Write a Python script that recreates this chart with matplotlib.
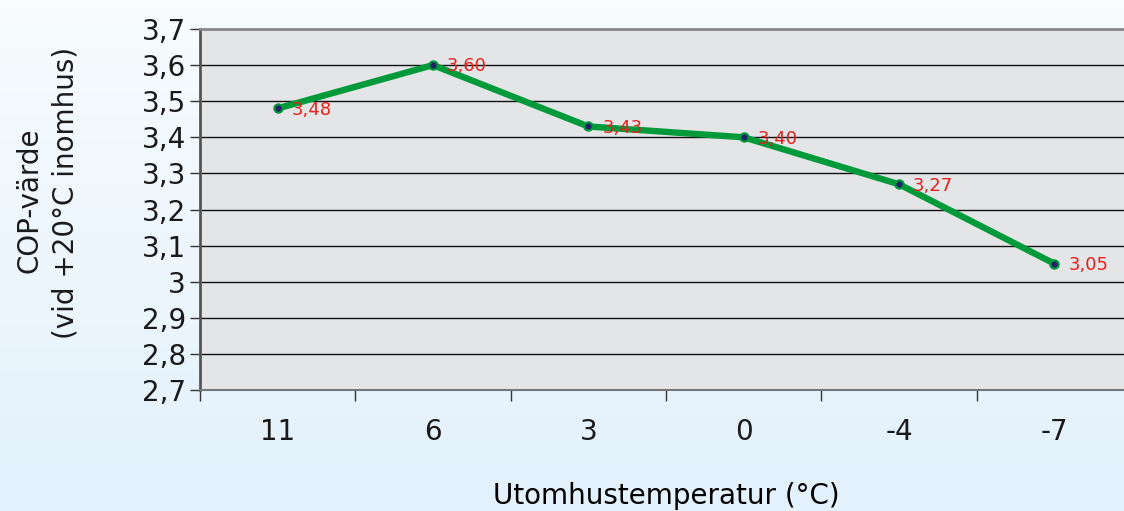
"""
COP vs outdoor temperature line chart.
"""

import numpy as np
import matplotlib

matplotlib.use("Agg")
import matplotlib.pyplot as plt
from matplotlib.ticker import FixedLocator, FuncFormatter

# ── Data ──────────────────────────────────────────────────────
temps = ["11", "6", "3", "0", "-4", "-7"]
cop = [3.48, 3.60, 3.43, 3.40, 3.27, 3.05]
y_ticks = [2.7, 2.8, 2.9, 3.0, 3.1, 3.2, 3.3, 3.4, 3.5, 3.6, 3.7]

# ── Styling ───────────────────────────────────────────────────
LINE_GREEN = "#009a3a"
DOT_NAVY = "#22226a"
LABEL_RED = "#e8201c"
PLOT_BG = "#e4e5e7"
TEXT = "#1a1a1a"

plt.rcParams.update({"font.family": "DejaVu Sans", "text.color": TEXT})

fig = plt.figure(figsize=(11.24, 5.11), dpi=100)

# soft vertical gradient behind everything
bg = fig.add_axes([0, 0, 1, 1], zorder=-10)
grad = np.linspace(0, 1, 256).reshape(-1, 1)
top = np.array([0xF8, 0xFC, 0xFE]) / 255
bot = np.array([0xE2, 0xF1, 0xFC]) / 255
img = top + (bot - top) * grad[..., None]
bg.imshow(img, aspect="auto", extent=[0, 1, 0, 1])
bg.axis("off")

ax = fig.add_axes([200 / 1124, 1 - 390 / 511, 932 / 1124, 361 / 511])
ax.set_facecolor(PLOT_BG)

x = np.arange(len(temps))
ax.plot(x, cop, color=LINE_GREEN, lw=4.6, zorder=3, solid_joinstyle="round")
ax.plot(x, cop, "o", ms=6, mfc=DOT_NAVY, mec=LINE_GREEN, mew=1.5, zorder=4)

for xi, v in zip(x, cop):
    ax.annotate(
        f"{v:.2f}".replace(".", ","),
        (xi, v),
        xytext=(10, -1),
        textcoords="offset points",
        va="center",
        ha="left",
        fontsize=13,
        color=LABEL_RED,
        zorder=5,
    )

ax.set_xlim(-0.5, len(temps) - 0.5)
ax.set_ylim(2.7, 3.7)

ax.set_xticks(x)
ax.set_xticklabels(temps, fontsize=20, color=TEXT)
ax.xaxis.set_minor_locator(FixedLocator(np.arange(-0.5, len(temps), 1)))
ax.tick_params(axis="x", which="major", length=0, pad=20)
ax.tick_params(axis="x", which="minor", length=8, width=1, color="#333333", direction="out")

ax.set_yticks(y_ticks)
ax.yaxis.set_major_formatter(
    FuncFormatter(lambda v, _: f"{v:g}".replace(".", ","))
)
ax.tick_params(axis="y", length=7, width=1, color="#333333", labelsize=20,
               labelcolor=TEXT, pad=3)

ax.grid(axis="y", color="#111111", lw=1)
ax.set_axisbelow(True)

ax.spines["right"].set_visible(False)
ax.spines["top"].set_color("#888888")
ax.spines["top"].set_linewidth(2)
ax.spines["left"].set_color("#555555")
ax.spines["left"].set_linewidth(2)
ax.spines["bottom"].set_color("#777777")
ax.spines["bottom"].set_linewidth(1.5)

# y axis title as two rotated lines
fig.text(30 / 1124, 1 - 200 / 511, "COP-värde", rotation=90,
         ha="center", va="center", fontsize=20)
fig.text(66 / 1124, 1 - 193 / 511, "(vid +20°C inomhus)", rotation=90,
         ha="center", va="center", fontsize=20)

ax.set_xlabel("Utomhustemperatur (°C)", fontsize=20, labelpad=26)

fig.savefig("out.png", dpi=100)
